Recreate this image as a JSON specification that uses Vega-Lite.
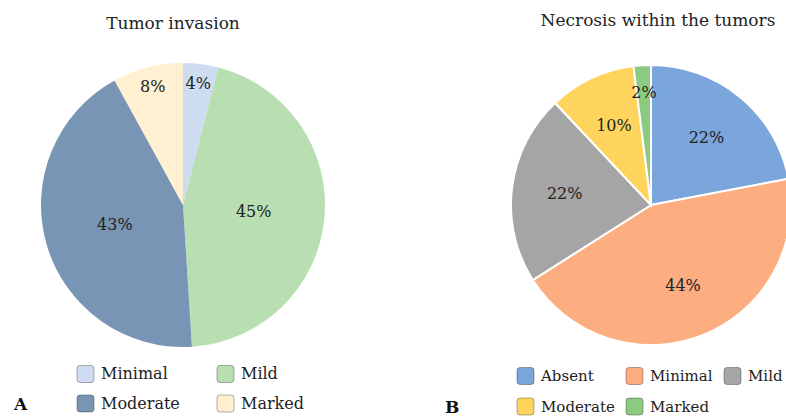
{
  "$schema": "https://vega.github.io/schema/vega-lite/v6.json",
  "background": "white",
  "padding": {"left": 14, "top": 12, "right": 0, "bottom": 0},
  "config": {
    "view": {"stroke": null},
    "font": "DejaVu Serif",
    "title": {"font": "DejaVu Serif", "fontSize": 17, "fontWeight": "normal", "color": "#222"}
  },
  "spacing": 112,
  "resolve": {"scale": {"color": "independent", "theta": "independent"}, "legend": {"color": "independent"}},
  "hconcat": [
    {
      "width": 300,
      "height": 300,
      "title": {"text": "Tumor invasion", "dx": -10, "offset": 22},
      "data": {"values": [
        {"grade": "Minimal", "pct": 0.04, "idx": 1},
        {"grade": "Mild", "pct": 0.45, "idx": 2},
        {"grade": "Moderate", "pct": 0.43, "idx": 3},
        {"grade": "Marked", "pct": 0.08, "idx": 4}
      ]},
      "layer": [
        {
          "mark": {"type": "arc", "outerRadius": 142},
          "encoding": {
            "theta": {"field": "pct", "type": "quantitative", "stack": true},
            "order": {"field": "idx", "type": "quantitative"},
            "color": {
              "field": "grade", "type": "nominal",
              "scale": {"domain": ["Minimal", "Mild", "Moderate", "Marked"], "range": ["#cddcf0", "#b8deb2", "#7895b5", "#fef0d0"]},
              "legend": {
                "orient": "none", "legendX": -19, "legendY": 309, "direction": "horizontal",
                "title": "A", "titleOrient": "left", "titleAnchor": "end", "titleBaseline": "bottom",
                "titleFont": "DejaVu Serif", "titleFontSize": 17, "titleFontWeight": "bold", "titleColor": "#111", "titlePadding": 48,
                "columns": 2, "columnPadding": 34, "rowPadding": 7, "gridAlign": "all",
                "symbolType": "M -1 -0.65 Q -1 -1 -0.65 -1 L 0.65 -1 Q 1 -1 1 -0.65 L 1 0.65 Q 1 1 0.65 1 L -0.65 1 Q -1 1 -1 0.65 Z",
                "symbolSize": 290, "symbolStrokeColor": "rgba(0,0,0,0.3)", "symbolStrokeWidth": 1,
                "labelFont": "DejaVu Serif", "labelFontSize": 16, "labelColor": "#222", "labelOffset": 6, "labelLimit": 200
              }
            }
          }
        },
        {
          "mark": {"type": "text", "radius": 122, "font": "DejaVu Serif", "fontSize": 16, "fill": "#222"},
          "encoding": {
            "theta": {"field": "pct", "type": "quantitative", "stack": true},
            "order": {"field": "idx", "type": "quantitative"},
            "detail": {"field": "grade", "type": "nominal"},
            "text": {"condition": {"test": "datum.pct < 0.1", "field": "pct", "type": "quantitative", "format": ".0%"}, "value": ""}
          }
        },
        {
          "mark": {"type": "text", "radius": 71, "font": "DejaVu Serif", "fontSize": 16, "fill": "#222"},
          "encoding": {
            "theta": {"field": "pct", "type": "quantitative", "stack": true},
            "order": {"field": "idx", "type": "quantitative"},
            "detail": {"field": "grade", "type": "nominal"},
            "text": {"condition": {"test": "datum.pct >= 0.1", "field": "pct", "type": "quantitative", "format": ".0%"}, "value": ""}
          }
        }
      ]
    },
    {
      "width": 300,
      "height": 300,
      "title": {"text": "Necrosis within the tumors", "dx": 7, "dy": -3, "offset": 22},
      "data": {"values": [
        {"grade": "Absent", "pct": 0.22, "idx": 1},
        {"grade": "Minimal", "pct": 0.44, "idx": 2},
        {"grade": "Mild", "pct": 0.22, "idx": 3},
        {"grade": "Moderate", "pct": 0.10, "idx": 4},
        {"grade": "Marked", "pct": 0.02, "idx": 5}
      ]},
      "layer": [
        {
          "mark": {"type": "arc", "outerRadius": 140, "stroke": "white", "strokeWidth": 2},
          "encoding": {
            "theta": {"field": "pct", "type": "quantitative", "stack": true},
            "order": {"field": "idx", "type": "quantitative"},
            "color": {
              "field": "grade", "type": "nominal",
              "scale": {"domain": ["Absent", "Minimal", "Mild", "Moderate", "Marked"], "range": ["#7aa6db", "#fcae81", "#a5a5a5", "#fed45c", "#8ccb7f"]},
              "legend": {
                "orient": "none", "legendX": -56, "legendY": 311, "direction": "horizontal",
                "title": "B", "titleOrient": "left", "titleAnchor": "end", "titleBaseline": "bottom",
                "titleFont": "DejaVu Serif", "titleFontSize": 17, "titleFontWeight": "bold", "titleColor": "#111", "titlePadding": 56,
                "columns": 3, "columnPadding": 8, "rowPadding": 8, "gridAlign": "each",
                "symbolType": "M -1 -0.65 Q -1 -1 -0.65 -1 L 0.65 -1 Q 1 -1 1 -0.65 L 1 0.65 Q 1 1 0.65 1 L -0.65 1 Q -1 1 -1 0.65 Z",
                "symbolSize": 290, "symbolStrokeColor": "rgba(0,0,0,0.3)", "symbolStrokeWidth": 1,
                "labelFont": "DejaVu Serif", "labelFontSize": 15, "labelColor": "#222", "labelOffset": 6, "labelLimit": 200
              }
            }
          }
        },
        {
          "mark": {"type": "text", "radius": 112, "font": "DejaVu Serif", "fontSize": 16, "fill": "#222"},
          "encoding": {
            "theta": {"field": "pct", "type": "quantitative", "stack": true},
            "order": {"field": "idx", "type": "quantitative"},
            "detail": {"field": "grade", "type": "nominal"},
            "text": {"condition": {"test": "datum.pct < 0.05", "field": "pct", "type": "quantitative", "format": ".0%"}, "value": ""}
          }
        },
        {
          "mark": {"type": "text", "radius": 87, "font": "DejaVu Serif", "fontSize": 16, "fill": "#222"},
          "encoding": {
            "theta": {"field": "pct", "type": "quantitative", "stack": true},
            "order": {"field": "idx", "type": "quantitative"},
            "detail": {"field": "grade", "type": "nominal"},
            "text": {"condition": {"test": "datum.pct >= 0.05", "field": "pct", "type": "quantitative", "format": ".0%"}, "value": ""}
          }
        }
      ]
    }
  ]
}
